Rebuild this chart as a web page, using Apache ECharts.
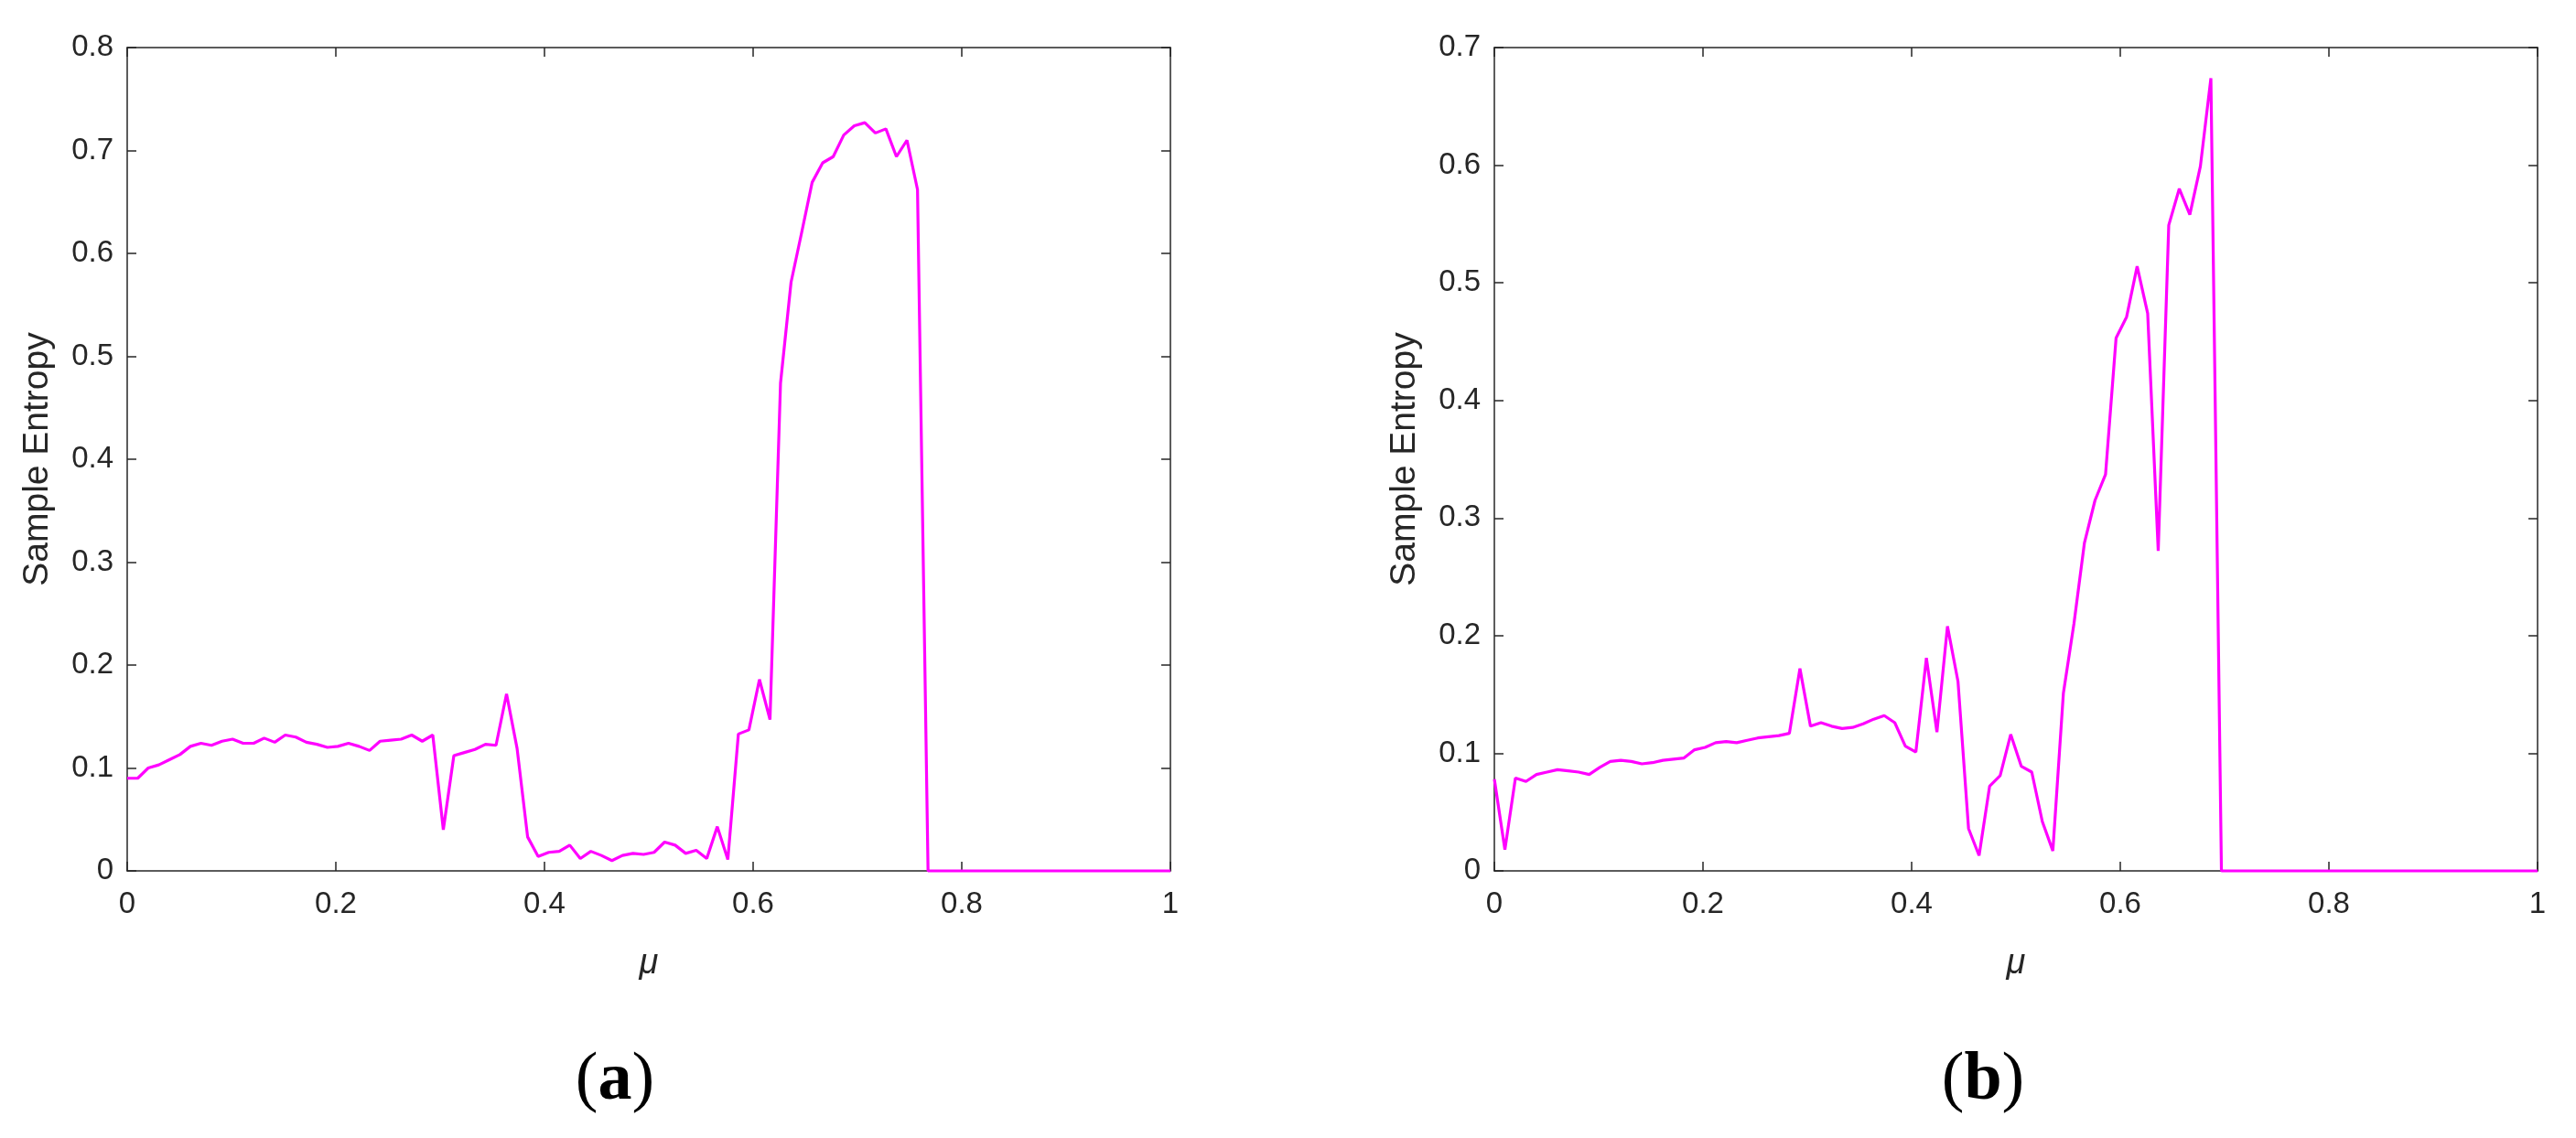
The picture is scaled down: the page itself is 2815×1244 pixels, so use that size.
<!DOCTYPE html>
<html>
<head>
<meta charset="utf-8">
<script src="https://cdn.jsdelivr.net/npm/echarts@6/dist/echarts.min.js"></script>
<style>
  html, body { margin: 0; padding: 0; background: #fff; }
  #chart { width: 2815px; height: 1244px; }
</style>
</head>
<body>
<div id="chart"></div>
<script>
  const MU_POINTS = 100

  // (a) sample entropy
  const entropyA = [
    0.090, 0.090, 0.100, 0.103, 0.108, 0.113, 0.121, 0.124, 0.122, 0.126,
    0.128, 0.124, 0.124, 0.129, 0.125, 0.132, 0.130, 0.125, 0.123, 0.120,
    0.121, 0.124, 0.121, 0.117, 0.126, 0.127, 0.128, 0.132, 0.126, 0.132,
    0.040, 0.112, 0.115, 0.118, 0.123, 0.122, 0.172, 0.119, 0.033, 0.014,
    0.018, 0.019, 0.025, 0.012, 0.019, 0.015, 0.010, 0.015, 0.017, 0.016,
    0.018, 0.028, 0.025, 0.017, 0.020, 0.012, 0.043, 0.011, 0.133, 0.137,
    0.186, 0.147, 0.474, 0.572, 0.620, 0.669, 0.688, 0.694, 0.715, 0.724,
    0.727, 0.717, 0.721, 0.694, 0.710, 0.662, 0, 0, 0, 0,
    0, 0, 0, 0, 0, 0, 0, 0, 0, 0,
    0, 0, 0, 0, 0, 0, 0, 0, 0, 0
  ]

  // (b) sample entropy
  const entropyB = [
    0.078, 0.018, 0.079, 0.076, 0.082, 0.084, 0.086, 0.085, 0.084, 0.082,
    0.088, 0.093, 0.094, 0.093, 0.091, 0.092, 0.094, 0.095, 0.096, 0.103,
    0.105, 0.109, 0.110, 0.109, 0.111, 0.113, 0.114, 0.115, 0.117, 0.172,
    0.123, 0.126, 0.123, 0.121, 0.122, 0.125, 0.129, 0.132, 0.126, 0.106,
    0.101, 0.181, 0.118, 0.208, 0.161, 0.036, 0.013, 0.072, 0.081, 0.116,
    0.089, 0.084, 0.042, 0.017, 0.151, 0.210, 0.279, 0.315, 0.337, 0.453,
    0.471, 0.514, 0.474, 0.272, 0.549, 0.580, 0.558, 0.599, 0.674, 0,
    0, 0, 0, 0, 0, 0, 0, 0, 0, 0,
    0, 0, 0, 0, 0, 0, 0, 0, 0, 0,
    0, 0, 0, 0, 0, 0, 0, 0, 0, 0
  ]

  const xTicks = { min: 0, max: 1, interval: 0.2 }
  const yMaxA = 0.8
  const yMaxB = 0.7
  const xName = 'μ'
  const yName = 'Sample Entropy'
  const captions = ['a', 'b']

  const mu = []
  for (let i = 0; i < MU_POINTS; i++) mu.push(i / (MU_POINTS - 1))
  const pairs = vals => vals.map((v, i) => [mu[i], v])

  const axisColor = '#262626'
  const font = 'Liberation Sans'

  function xAxisFor(grid, top) {
    return {
      type: 'value',
      gridIndex: grid,
      position: top ? 'top' : 'bottom',
      min: xTicks.min, max: xTicks.max, interval: xTicks.interval,
      axisLine: { show: true, onZero: false, lineStyle: { color: axisColor, width: 1.5 } },
      axisTick: { show: true, inside: true, length: 10, lineStyle: { color: axisColor, width: 1.5 } },
      axisLabel: { show: !top, margin: 20, fontSize: 33, fontFamily: font, color: axisColor },
      splitLine: { show: false },
      name: top ? '' : xName,
      nameLocation: 'middle',
      nameGap: 82,
      nameTextStyle: { fontSize: 38, fontFamily: font, fontStyle: 'italic', color: axisColor }
    }
  }

  function yAxisFor(grid, right, max) {
    return {
      type: 'value',
      gridIndex: grid,
      position: right ? 'right' : 'left',
      min: 0, max: max, interval: 0.1,
      axisLine: { show: true, onZero: false, lineStyle: { color: axisColor, width: 1.5 } },
      axisTick: { show: true, inside: true, length: 10, lineStyle: { color: axisColor, width: 1.5 } },
      axisLabel: { show: !right, margin: 15, fontSize: 33, fontFamily: font, color: axisColor },
      splitLine: { show: false },
      name: right ? '' : yName,
      nameLocation: 'middle',
      nameGap: 78,
      nameTextStyle: { fontSize: 39, fontFamily: font, color: axisColor }
    }
  }

  function lineSeries(idx, vals) {
    return {
      type: 'line',
      xAxisIndex: idx * 2,
      yAxisIndex: idx * 2,
      data: pairs(vals),
      showSymbol: false,
      clip: false,
      lineStyle: { color: '#ff00ff', width: 3.2 },
      itemStyle: { color: '#ff00ff' }
    }
  }

  function caption(letter, x) {
    return {
      type: 'text',
      x: x,
      y: 1182,
      style: {
        text: '(' + '{b|' + letter + '})',
        align: 'center',
        verticalAlign: 'middle',
        font: '74px "Liberation Serif"',
        fill: '#000',
        rich: { b: { fontSize: 74, fontWeight: 'bold', fontFamily: 'Liberation Serif', fill: '#000' } }
      }
    }
  }

  const chart = echarts.init(document.getElementById('chart'))
  chart.setOption({
    backgroundColor: '#fff',
    animation: false,
    grid: [
      { left: 139, top: 52, width: 1140, height: 900 },
      { left: 1633, top: 52, width: 1140, height: 900 }
    ],
    xAxis: [xAxisFor(0, false), xAxisFor(0, true), xAxisFor(1, false), xAxisFor(1, true)],
    yAxis: [yAxisFor(0, false, yMaxA), yAxisFor(0, true, yMaxA), yAxisFor(1, false, yMaxB), yAxisFor(1, true, yMaxB)],
    series: [lineSeries(0, entropyA), lineSeries(1, entropyB)],
    graphic: [caption(captions[0], 672), caption(captions[1], 2167)]
  })
</script>
</body>
</html>
